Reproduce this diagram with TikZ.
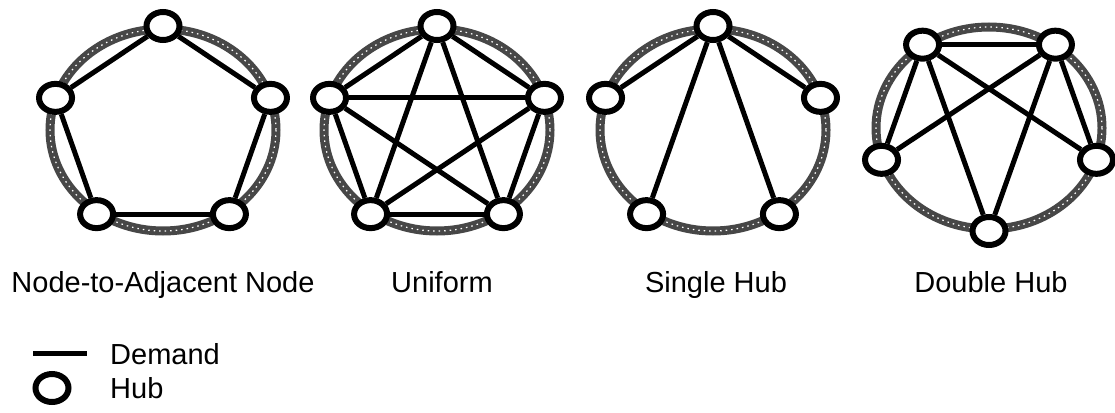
\documentclass[tikz,border=0pt]{standalone}
\usepackage{fontspec}
\setmainfont{Liberation Sans}
\usetikzlibrary{shapes.geometric}

\tikzset{
	hub/.style={ellipse, draw, fill=white, line width=6pt, inner sep=0pt,
		minimum width=33pt, minimum height=28pt},
	demand/.style={line width=5pt},
	ring/.style={draw=black!72, line width=9pt},
	ringgrain/.style={draw=white, line width=1.2pt, dash pattern=on 1.5pt off 4pt},
	caption/.style={font=\fontsize{29}{32}\selectfont, inner sep=0pt}
}

\begin{document}
\begin{tikzpicture}[x=1pt, y=-1pt]
		\useasboundingbox (0,0) rectangle (1115,412);
		% node-to-adjacent node
		\begin{scope}[shift={(163,130)}]
			\draw[ring] (0,0) ellipse [x radius=113, y radius=101];
			\draw[ringgrain] (0,0) ellipse [x radius=113, y radius=101];
			\foreach \a/\n in {270/t, 342/r, 54/br, 126/bl, 198/l}
				\node[hub] (a\n) at (\a:113 and 104) {};
			\foreach \p/\q in {t/r, r/br, br/bl, bl/l, l/t}
				\draw[demand] (a\p) -- (a\q);
		\end{scope}
		% uniform
		\begin{scope}[shift={(437,130)}]
			\draw[ring] (0,0) ellipse [x radius=113, y radius=101];
			\draw[ringgrain] (0,0) ellipse [x radius=113, y radius=101];
			\foreach \a/\n in {270/t, 342/r, 54/br, 126/bl, 198/l}
				\node[hub] (u\n) at (\a:113 and 104) {};
			\foreach \p/\q in {t/r, t/l, t/bl, t/br, r/l, r/bl, r/br, l/bl, l/br, bl/br}
				\draw[demand] (u\p) -- (u\q);
		\end{scope}
		% single hub
		\begin{scope}[shift={(713,130)}]
			\draw[ring] (0,0) ellipse [x radius=113, y radius=101];
			\draw[ringgrain] (0,0) ellipse [x radius=113, y radius=101];
			\foreach \a/\n in {270/t, 342/r, 54/br, 126/bl, 198/l}
				\node[hub] (s\n) at (\a:113 and 104) {};
			\foreach \q in {l, r, bl, br}
				\draw[demand] (st) -- (s\q);
		\end{scope}
		% double hub
		\begin{scope}[shift={(989,128)}]
			\draw[ring] (0,0) ellipse [x radius=113, y radius=101];
			\draw[ringgrain] (0,0) ellipse [x radius=113, y radius=101];
			\foreach \a/\n in {234/tl, 306/tr, 18/r, 90/b, 162/l}
				\node[hub] (d\n) at (\a:113 and 103) {};
			\foreach \p/\q in {tl/tr, tl/l, tl/b, tl/r, tr/r, tr/b, tr/l}
				\draw[demand] (d\p) -- (d\q);
		\end{scope}
		\node[caption, anchor=base] (capadj) at (163,292) {Node-to-Adjacent Node};
		\node[caption, anchor=base] (capuni) at (442,292) {Uniform};
		\node[caption, anchor=base] (capsgl) at (716,292) {Single Hub};
		\node[caption, anchor=base] (capdbl) at (991,292) {Double Hub};
		% key
		\coordinate (keyl) at (33,353);
		\coordinate (keyr) at (87,353);
		\draw[demand] (keyl) -- (keyr);
		\node[hub] (keyhub) at (52,388) {};
		\node[caption, anchor=base west] (keydemand) at (110,364) {Demand};
		\node[caption, anchor=base west] (keyhubtext) at (110,398) {Hub};
	\end{tikzpicture}
\end{document}
